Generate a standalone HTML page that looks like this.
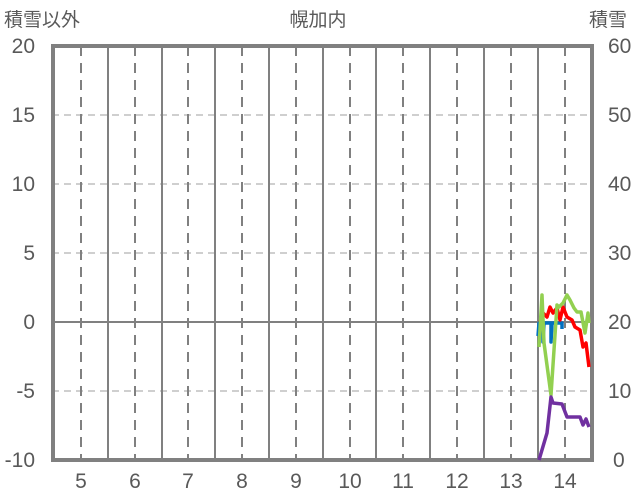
<!DOCTYPE html>
<html><head><meta charset="utf-8"><style>
html,body{margin:0;padding:0;background:#fff;}
svg{display:block;}
text{font-family:"Liberation Sans","Noto Sans CJK JP",sans-serif;fill:#595959;}
</style></head><body>
<svg width="636" height="501" viewBox="0 0 636 501">
<g stroke="#bfbfbf" stroke-width="1.5" stroke-dasharray="7,5">
<line x1="52" y1="115" x2="592" y2="115"/>
<line x1="52" y1="184" x2="592" y2="184"/>
<line x1="52" y1="253" x2="592" y2="253"/>
<line x1="52" y1="391" x2="592" y2="391"/>
</g>
<g stroke="#808080" stroke-width="2" stroke-dasharray="10,7">
<line x1="81" y1="46" x2="81" y2="460"/><line x1="135" y1="46" x2="135" y2="460"/>
<line x1="188" y1="46" x2="188" y2="460"/><line x1="242" y1="46" x2="242" y2="460"/>
<line x1="296" y1="46" x2="296" y2="460"/><line x1="350" y1="46" x2="350" y2="460"/>
<line x1="403" y1="46" x2="403" y2="460"/><line x1="457" y1="46" x2="457" y2="460"/>
<line x1="511" y1="46" x2="511" y2="460"/><line x1="565" y1="46" x2="565" y2="460"/>
</g>
<g stroke="#808080" stroke-width="2">
<line x1="108" y1="46" x2="108" y2="460"/><line x1="162" y1="46" x2="162" y2="460"/>
<line x1="215" y1="46" x2="215" y2="460"/><line x1="269" y1="46" x2="269" y2="460"/>
<line x1="323" y1="46" x2="323" y2="460"/><line x1="376" y1="46" x2="376" y2="460"/>
<line x1="430" y1="46" x2="430" y2="460"/><line x1="484" y1="46" x2="484" y2="460"/>
<line x1="538" y1="46" x2="538" y2="460"/>
<line x1="52" y1="322" x2="592" y2="322"/>
</g>
<rect x="53" y="46" width="539" height="414" fill="none" stroke="#808080" stroke-width="4"/>
<g fill="none" stroke-width="3.5" stroke-linejoin="round">
<path stroke="#0070c0" d="M538,336 L539,323 L543,323 L543,342 L544,323 L551,323 L551,342 L552,323 L562,323 L562,329"/>
<path stroke="#ff0000" d="M540,322 L543,313 L547,317 L550,307 L553,313 L557,308 L560,320 L563,307 L567,317 L572,320 L575,327 L580,330 L583,347 L586,343 L589,367"/>
<path stroke="#92d050" d="M539,347 L542,295 L544,343 L551,395 L557,305 L559,307 L563,303 L567,295 L570,300 L574,308 L577,312 L581,312 L585,333 L588,313 L589,323"/>
<path stroke="#7030a0" d="M539,460 L547,433 L551,397 L553,403 L562,404 L567,417 L580,417 L583,425 L586,419 L589,427"/>
</g>
<g font-size="21" text-anchor="end">
<text x="35" y="53">20</text><text x="35" y="122">15</text><text x="35" y="191">10</text>
<text x="35" y="260">5</text><text x="35" y="329">0</text><text x="35" y="398">-5</text><text x="35" y="467">-10</text>
</g>
<g font-size="21" text-anchor="start">
<text x="608" y="53">60</text><text x="608" y="122">50</text><text x="608" y="191">40</text>
<text x="608" y="260">30</text><text x="608" y="329">20</text><text x="608" y="398">10</text><text x="613" y="467">0</text>
</g>
<g font-size="21" text-anchor="middle">
<text x="81" y="488">5</text><text x="135" y="488">6</text><text x="188" y="488">7</text><text x="242" y="488">8</text>
<text x="296" y="488">9</text><text x="350" y="488">10</text><text x="403" y="488">11</text><text x="457" y="488">12</text>
<text x="511" y="488">13</text><text x="565" y="488">14</text>
</g>
<text x="4" y="26" font-size="19">積雪以外</text>
<text x="318" y="26" font-size="19" text-anchor="middle">幌加内</text>
<text x="589" y="26" font-size="19">積雪</text>
</svg>
</body></html>
